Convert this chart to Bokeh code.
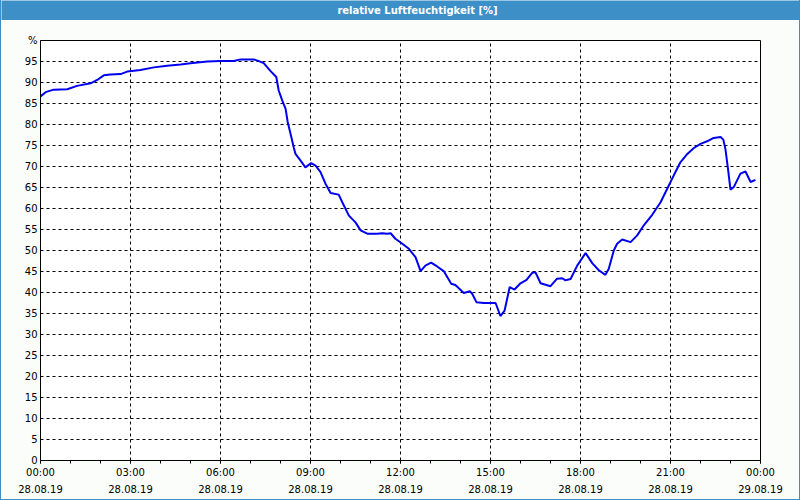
from bokeh.plotting import figure
from bokeh.layouts import column
from bokeh.models import Range1d, FixedTicker
from bokeh.embed import file_html
from bokeh.resources import INLINE
from bokeh.core.properties import value

# ---- data (hours since 28.08.19 00:00, relative humidity in %) ----
hours = [0.0, 0.17, 0.44, 0.89, 1.22, 1.67, 1.89, 2.11, 2.33, 2.67, 2.89, 3.33, 3.78,
         4.22, 4.67, 5.0, 5.56, 6.0, 6.44, 6.67, 7.11, 7.28, 7.44, 7.67, 7.86, 7.94,
         8.06, 8.17, 8.24, 8.36, 8.44, 8.5, 8.67, 8.83, 9.02, 9.17, 9.33, 9.5, 9.67,
         9.94, 10.06, 10.28, 10.5, 10.67, 10.89, 11.22, 11.39, 11.56, 11.67, 11.83,
         12.06, 12.28, 12.5, 12.67, 12.83, 13.02, 13.22, 13.44, 13.69, 13.83, 14.11,
         14.31, 14.39, 14.53, 14.78, 15.17, 15.33, 15.47, 15.64, 15.8, 16.0, 16.2,
         16.39, 16.5, 16.67, 17.0, 17.22, 17.39, 17.5, 17.67, 17.89, 18.17, 18.39,
         18.61, 18.83, 18.94, 19.11, 19.22, 19.39, 19.67, 19.89, 20.11, 20.39, 20.67,
         20.89, 21.11, 21.33, 21.56, 21.78, 22.0, 22.22, 22.44, 22.67, 22.76, 22.83,
         22.91, 23.0, 23.11, 23.33, 23.5, 23.67, 23.83]
humidity = [86.7, 87.7, 88.3, 88.4, 89.2, 89.8, 90.6, 91.7, 91.9, 92.0, 92.6, 93.0, 93.6,
            94.0, 94.3, 94.6, 95.0, 95.1, 95.1, 95.5, 95.5, 95.1, 94.6, 92.7, 91.3, 88.1,
            85.7, 83.7, 80.6, 77.0, 74.6, 73.0, 71.4, 69.8, 70.8, 70.2, 68.7, 65.9, 63.7,
            63.3, 61.5, 58.3, 56.7, 54.8, 54.0, 54.0, 54.1, 54.0, 54.1, 52.8,
            51.6, 50.4, 48.4, 45.1, 46.4, 47.1, 46.2, 45.1, 42.1, 41.8, 39.9,
            40.3, 39.7, 37.7, 37.5, 37.5, 34.4, 35.7, 41.3, 40.7, 42.2, 43.0,
            44.7, 44.8, 42.2, 41.5, 43.3, 43.4, 42.9, 43.2, 46.4, 49.4, 47.0,
            45.3, 44.2, 45.6, 50.0, 51.6, 52.6, 52.0, 53.6, 56.0, 58.5, 61.5,
            64.7, 67.9, 71.0, 73.0, 74.4, 75.4, 76.0, 76.8, 77.0, 76.4, 74.2,
            69.8, 64.5, 65.1, 68.3, 68.8, 66.3, 66.8]

x_ticks = [0, 3, 6, 9, 12, 15, 18, 21, 24]
x_tick_labels = ["00:00\n28.08.19", "03:00\n28.08.19", "06:00\n28.08.19",
                 "09:00\n28.08.19", "12:00\n28.08.19", "15:00\n28.08.19",
                 "18:00\n28.08.19", "21:00\n28.08.19", "00:00\n29.08.19"]
x_minor_ticks = list(range(0, 25))
y_ticks = list(range(0, 101, 5))
y_unit = "%"
title_text = "relative Luftfeuchtigkeit [%]"

BAR = "#3d8fc8"
BG = "#fbfdfb"
FONT = "DejaVu Sans"

# ---- title bar ----
bar = figure(frame_width=798, frame_height=20, x_range=Range1d(0, 798), y_range=Range1d(0, 20),
             toolbar_location=None, output_backend="svg",
             x_axis_location=None, y_axis_location=None, min_border=0,
             outline_line_color=None, background_fill_color=BAR, border_fill_color=BAR)
bar.frame_align = False
bar.xgrid.visible = False
bar.ygrid.visible = False
bar.text(x=[416], y=[10], text=[title_text], text_align="center", text_baseline="middle",
         text_color="white", text_font=value(FONT), text_font_style="bold",
         text_font_size="10px")

# ---- main chart ----
p = figure(frame_width=720, frame_height=420, x_range=Range1d(0, 24), y_range=Range1d(0, 100),
           toolbar_location=None, output_backend="svg",
           min_border_left=39, min_border_right=39, min_border_top=20, min_border_bottom=39,
           background_fill_color="white", border_fill_color=BG,
           outline_line_color="black", outline_line_width=1)
p.frame_align = False

p.xaxis.ticker = FixedTicker(ticks=x_ticks, minor_ticks=x_minor_ticks)
p.xaxis.major_label_overrides = dict(zip(x_ticks, x_tick_labels))
p.xaxis.major_tick_out = 3
p.xaxis.major_tick_in = 0
p.xaxis.minor_tick_out = 3
p.xaxis.minor_tick_in = 0
p.xaxis.major_label_standoff = 3
p.xaxis.major_label_text_line_height = 1.6

p.yaxis.ticker = FixedTicker(ticks=y_ticks)
p.yaxis.major_label_overrides = {100: y_unit}
p.yaxis.major_tick_out = 0
p.yaxis.major_tick_in = 0
p.yaxis.minor_tick_out = 0
p.yaxis.minor_tick_in = 0
p.yaxis.major_label_standoff = 3

for ax in (p.xaxis, p.yaxis):
    ax.axis_line_color = "black"
    ax.major_tick_line_color = "black"
    ax.minor_tick_line_color = "black"
    ax.major_label_text_color = "black"
    ax.major_label_text_font = FONT
    ax.major_label_text_font_size = "10px"

p.grid.grid_line_color = "black"
p.grid.grid_line_dash = "3 3"
p.grid.grid_line_width = 1

p.line(hours, humidity, line_color="#0000ee", line_width=2)

layout = column(bar, p, spacing=0,
                styles={"border-left": f"1px solid {BAR}", "border-right": f"1px solid {BAR}",
                        "border-bottom": f"1px solid {BAR}", "background-color": BG})

open("out.html", "w").write(file_html(layout, INLINE))
